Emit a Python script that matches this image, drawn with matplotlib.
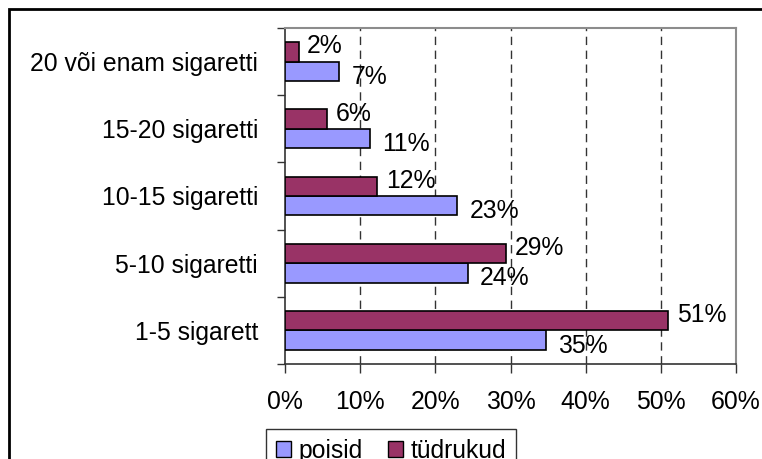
import matplotlib
matplotlib.use("Agg")
import matplotlib.pyplot as plt
import numpy as np
from matplotlib.patches import Rectangle

# =========================
# DATA
# =========================
categories = ["1-5 sigarett", "5-10 sigaretti", "10-15 sigaretti",
              "15-20 sigaretti", "20 või enam sigaretti"]
poisid = [34.7, 24.3, 22.9, 11.3, 7.2]
tudrukud = [51.0, 29.4, 12.3, 5.6, 1.8]
poisid_labels = ["35%", "24%", "23%", "11%", "7%"]
tudrukud_labels = ["51%", "29%", "12%", "6%", "2%"]
x_ticks = [0, 10, 20, 30, 40, 50, 60]

BLUE = "#9999FF"
RED = "#993366"
FS = 17.8

plt.rcParams["font.family"] = ["Liberation Sans", "DejaVu Sans"]

# =========================
# FIGURE
# =========================
W, H = 762, 459
fig = plt.figure(figsize=(W / 100, H / 100), dpi=100)
ax = fig.add_axes([285 / W, 1 - 364 / H, (736 - 285) / W, (364 - 28) / H])

y = np.arange(len(categories))
h = 0.29

ax.barh(y - h / 2, poisid, height=h, color=BLUE, edgecolor="black", linewidth=1.2, zorder=3)
ax.barh(y + h / 2, tudrukud, height=h, color=RED, edgecolor="black", linewidth=1.2, zorder=3)

# data labels (offsets in points)
for yi, v, lab in zip(y, tudrukud, tudrukud_labels):
    ax.annotate(lab, (v, yi + h / 2), xytext=(6, 4), textcoords="offset points",
                ha="left", va="center", fontsize=FS, zorder=4)
for yi, v, lab in zip(y, poisid, poisid_labels):
    ax.annotate(lab, (v, yi - h / 2), xytext=(9, -4), textcoords="offset points",
                ha="left", va="center", fontsize=FS, zorder=4)

ax.set_xlim(0, 60)
ax.set_ylim(-0.5, len(categories) - 0.5)

ax.set_xticks(x_ticks)
ax.set_xticklabels([f"{t}%" for t in x_ticks], fontsize=FS)
ax.tick_params(axis="x", direction="out", length=6.5, width=1, color="#333333", pad=12.5)

ax.set_yticks(y)
ax.set_yticklabels(categories, fontsize=FS)
ax.tick_params(axis="y", which="major", length=0, pad=19.5)
ax.set_yticks(np.arange(-0.5, len(categories), 1), minor=True)
ax.tick_params(axis="y", which="minor", direction="out", length=6, width=1, color="#333333")

# gridlines
for t in x_ticks[1:-1]:
    ax.axvline(t, color="#333333", linewidth=1, linestyle=(0, (6, 4)), zorder=1)

for side in ["top", "right"]:
    ax.spines[side].set_color("#8c8c8c")
    ax.spines[side].set_linewidth(1.5)
for side in ["left", "bottom"]:
    ax.spines[side].set_color("#333333")
    ax.spines[side].set_linewidth(1.2)

# legend
leg = fig.legend(
    handles=[Rectangle((0, 0), 1, 1, facecolor=BLUE, edgecolor="black", linewidth=1),
             Rectangle((0, 0), 1, 1, facecolor=RED, edgecolor="black", linewidth=1)],
    labels=["poisid", "tüdrukud"],
    loc="upper left", bbox_to_anchor=(266 / W, 1 - 429 / H),
    ncol=2, fontsize=FS, frameon=True, fancybox=False,
    handlelength=0.62, handleheight=0.62, handletextpad=0.3,
    columnspacing=1.0, borderpad=0.4, borderaxespad=0,
)
leg.get_frame().set_edgecolor("black")
leg.get_frame().set_linewidth(1)

# outer chart border (top and left visible, rest clipped)
fig.patches.append(Rectangle((9 / W, -0.1), 1.2, 1 - 9 / H + 0.1, transform=fig.transFigure,
                             fill=False, edgecolor="black", linewidth=2))

fig.savefig("out.png", dpi=100)
